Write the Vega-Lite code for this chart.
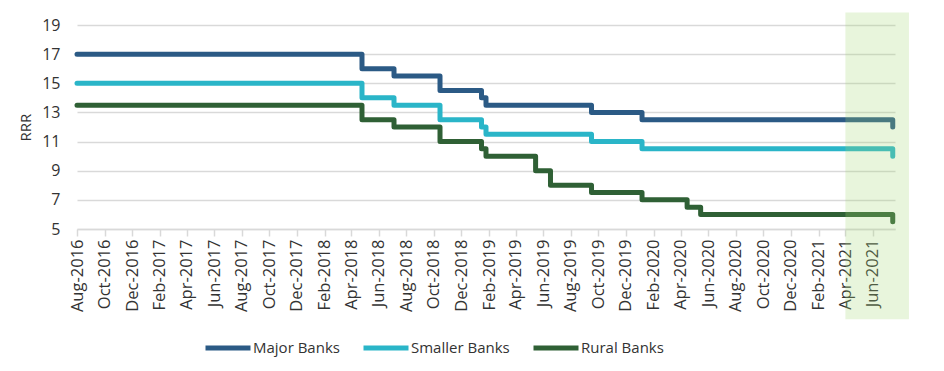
{
  "$schema": "https://vega.github.io/schema/vega-lite/v6.json",
  "width": 818,
  "height": 204,
  "autosize": {"type": "pad"},
  "padding": {"left": 18, "top": 12, "right": 0, "bottom": 0},
  "config": {
    "font": "Open Sans",
    "view": {"stroke": null},
    "axis": {"labelColor": "#333333", "titleColor": "#333333", "labelFontSize": 15, "titleFontSize": 15, "titleFontWeight": "normal", "labelOverlap": false, "tickCount": 100},
    "axisX": {"labelOverlap": false, "labelFlush": false, "labelBound": false}
  },
  "datasets": {
    "rrr": [
      {"series": "Major Banks", "date": "2016-08-01", "value": 17},
      {"series": "Major Banks", "date": "2018-04-25", "value": 16},
      {"series": "Major Banks", "date": "2018-07-05", "value": 15.5},
      {"series": "Major Banks", "date": "2018-10-15", "value": 14.5},
      {"series": "Major Banks", "date": "2019-01-15", "value": 14},
      {"series": "Major Banks", "date": "2019-01-25", "value": 13.5},
      {"series": "Major Banks", "date": "2019-09-16", "value": 13},
      {"series": "Major Banks", "date": "2020-01-06", "value": 12.5},
      {"series": "Major Banks", "date": "2021-07-15", "value": 12},
      {"series": "Smaller Banks", "date": "2016-08-01", "value": 15},
      {"series": "Smaller Banks", "date": "2018-04-25", "value": 14},
      {"series": "Smaller Banks", "date": "2018-07-05", "value": 13.5},
      {"series": "Smaller Banks", "date": "2018-10-15", "value": 12.5},
      {"series": "Smaller Banks", "date": "2019-01-15", "value": 12},
      {"series": "Smaller Banks", "date": "2019-01-25", "value": 11.5},
      {"series": "Smaller Banks", "date": "2019-09-16", "value": 11},
      {"series": "Smaller Banks", "date": "2020-01-06", "value": 10.5},
      {"series": "Smaller Banks", "date": "2021-07-15", "value": 10},
      {"series": "Rural Banks", "date": "2016-08-01", "value": 13.5},
      {"series": "Rural Banks", "date": "2018-04-25", "value": 12.5},
      {"series": "Rural Banks", "date": "2018-07-05", "value": 12},
      {"series": "Rural Banks", "date": "2018-10-15", "value": 11},
      {"series": "Rural Banks", "date": "2019-01-15", "value": 10.5},
      {"series": "Rural Banks", "date": "2019-01-25", "value": 10},
      {"series": "Rural Banks", "date": "2019-05-15", "value": 9},
      {"series": "Rural Banks", "date": "2019-06-17", "value": 8},
      {"series": "Rural Banks", "date": "2019-09-16", "value": 7.5},
      {"series": "Rural Banks", "date": "2020-01-06", "value": 7},
      {"series": "Rural Banks", "date": "2020-04-15", "value": 6.5},
      {"series": "Rural Banks", "date": "2020-05-15", "value": 6},
      {"series": "Rural Banks", "date": "2021-07-15", "value": 5.5}
    ],
    "band": [
      {"start": "2021-04-01", "end": "2021-08-20", "lo": -1.2, "hi": 19.86}
    ]
  },
  "layer": [
    {
      "data": {"name": "rrr"},
      "mark": {"type": "line", "interpolate": "step-after", "strokeWidth": 5, "strokeCap": "round", "strokeJoin": "round"},
      "encoding": {
        "x": {
          "field": "date", "type": "temporal",
          "scale": {"type": "utc", "domain": [{"year": 2016, "month": 8, "date": 1, "utc": true}, {"year": 2021, "month": 7, "date": 20, "utc": true}]},
          "axis": {
            "title": null, "format": "%b-%Y", "labelAngle": -90, "grid": false, "tickCount": 100,
            "tickSize": 7, "tickColor": "#d9d9d9", "tickWidth": 1.5,
            "domainColor": "#d9d9d9", "domainWidth": 1.5, "labelFontSize": 16.5,
            "labelPadding": 3, "labelOverlap": false, "labelBound": false, "labelFlush": false,
            "values": [
              {"year": 2016, "month": 8, "date": 1, "utc": true},
              {"year": 2016, "month": 10, "date": 1, "utc": true},
              {"year": 2016, "month": 12, "date": 1, "utc": true},
              {"year": 2017, "month": 2, "date": 1, "utc": true},
              {"year": 2017, "month": 4, "date": 1, "utc": true},
              {"year": 2017, "month": 6, "date": 1, "utc": true},
              {"year": 2017, "month": 8, "date": 1, "utc": true},
              {"year": 2017, "month": 10, "date": 1, "utc": true},
              {"year": 2017, "month": 12, "date": 1, "utc": true},
              {"year": 2018, "month": 2, "date": 1, "utc": true},
              {"year": 2018, "month": 4, "date": 1, "utc": true},
              {"year": 2018, "month": 6, "date": 1, "utc": true},
              {"year": 2018, "month": 8, "date": 1, "utc": true},
              {"year": 2018, "month": 10, "date": 1, "utc": true},
              {"year": 2018, "month": 12, "date": 1, "utc": true},
              {"year": 2019, "month": 2, "date": 1, "utc": true},
              {"year": 2019, "month": 4, "date": 1, "utc": true},
              {"year": 2019, "month": 6, "date": 1, "utc": true},
              {"year": 2019, "month": 8, "date": 1, "utc": true},
              {"year": 2019, "month": 10, "date": 1, "utc": true},
              {"year": 2019, "month": 12, "date": 1, "utc": true},
              {"year": 2020, "month": 2, "date": 1, "utc": true},
              {"year": 2020, "month": 4, "date": 1, "utc": true},
              {"year": 2020, "month": 6, "date": 1, "utc": true},
              {"year": 2020, "month": 8, "date": 1, "utc": true},
              {"year": 2020, "month": 10, "date": 1, "utc": true},
              {"year": 2020, "month": 12, "date": 1, "utc": true},
              {"year": 2021, "month": 2, "date": 1, "utc": true},
              {"year": 2021, "month": 4, "date": 1, "utc": true},
              {"year": 2021, "month": 6, "date": 1, "utc": true}
            ]
          }
        },
        "y": {
          "field": "value", "type": "quantitative",
          "scale": {"domain": [5, 19], "nice": false, "zero": false},
          "axis": {
            "title": "RRR", "values": [5, 7, 9, 11, 13, 15, 17, 19], "tickCount": 100, "format": "d",
            "grid": true, "gridColor": "#d9d9d9", "gridWidth": 1.5, "labelFontSize": 16,
            "ticks": false, "tickSize": 0, "domain": false, "labelOverlap": false,
            "labelPadding": 17, "titlePadding": 8
          }
        },
        "color": {
          "field": "series", "type": "nominal",
          "scale": {"domain": ["Major Banks", "Smaller Banks", "Rural Banks"], "range": ["#2b5a85", "#2ab5c8", "#2f6035"]},
          "legend": {
            "title": null, "orient": "none", "legendX": 126, "legendY": 298, "direction": "horizontal",
            "symbolType": "stroke", "symbolSize": 2025, "symbolStrokeWidth": 5,
            "labelFontSize": 15, "labelColor": "#333333", "columnPadding": 13, "labelOffset": 0
          }
        }
      }
    },
    {
      "data": {"name": "band"},
      "mark": {"type": "rect", "color": "#a3d773", "opacity": 0.25},
      "encoding": {
        "x": {"field": "start", "type": "temporal", "scale": {"type": "utc", "domain": [{"year": 2016, "month": 8, "date": 1, "utc": true}, {"year": 2021, "month": 7, "date": 20, "utc": true}]}},
        "x2": {"field": "end"},
        "y": {"field": "lo", "type": "quantitative", "scale": {"domain": [5, 19], "nice": false, "zero": false}},
        "y2": {"field": "hi"}
      }
    }
  ]
}
